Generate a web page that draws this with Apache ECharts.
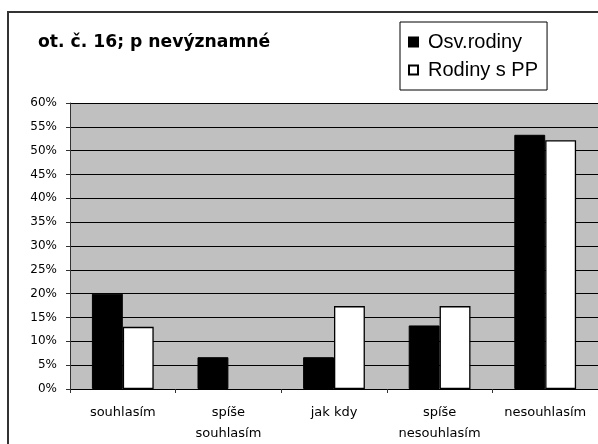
<!DOCTYPE html>
<html>
<head>
<meta charset="utf-8">
<script src="https://cdn.jsdelivr.net/npm/echarts@6/dist/echarts.min.js"></script>
<style>
html,body{margin:0;padding:0;background:#fff;}
#c{width:598px;height:444px;}
</style>
</head>
<body>
<div id="c"></div>
<script>
var titleText = 'ot. č. 16; p nevýznamné';
var categories = ['souhlasím', 'spíše\nsouhlasím', 'jak kdy', 'spíše\nnesouhlasím', 'nesouhlasím'];
var seriesNames = ['Osv.rodiny', 'Rodiny s PP'];
var osvRodiny = [20.0, 6.67, 6.67, 13.33, 53.33];
var rodinySPP = [13.04, 0, 17.39, 17.39, 52.17];
var yTicks = { min: 0, max: 60, interval: 5 };

function withZeroHidden(arr) {
  return arr.map(function (v) {
    return v === 0 ? { value: v, itemStyle: { borderWidth: 0 } } : v;
  });
}

var chart = echarts.init(document.getElementById('c'), null, { renderer: 'canvas' });
chart.setOption({
  animation: false,
  backgroundColor: '#ffffff',
  title: {
    text: titleText,
    left: 38,
    top: 34,
    padding: 0,
    textStyle: { fontFamily: 'DejaVu Sans', fontWeight: 'bold', fontSize: 17.2, lineHeight: 18, color: '#000' }
  },
  legend: {
    orient: 'vertical',
    left: 400,
    top: 22,
    padding: [10, 9, 10, 8],
    itemGap: 8,
    itemWidth: 9,
    itemHeight: 9,
    icon: 'rect',
    borderColor: '#000',
    borderWidth: 1,
    backgroundColor: '#fff',
    textStyle: { fontFamily: 'Liberation Sans', fontSize: 20, lineHeight: 20, color: '#000', padding: [0, 0, 0, 5] },
    data: seriesNames
  },
  graphic: [{
    type: 'rect',
    z: -10,
    silent: true,
    shape: { x: 8, y: 12, width: 700, height: 600 },
    style: { fill: 'none', stroke: '#333', lineWidth: 2 }
  }],
  grid: {
    left: 70, right: -1, top: 103, bottom: 55,
    show: true, backgroundColor: '#c0c0c0', borderWidth: 0
  },
  xAxis: {
    type: 'category',
    data: categories,
    axisLine: { lineStyle: { color: '#000', width: 1 } },
    axisTick: { show: true, length: 4, alignWithLabel: false, lineStyle: { color: '#333' } },
    axisLabel: { margin: 13, fontFamily: 'DejaVu Sans', fontSize: 13, lineHeight: 21, color: '#000', interval: 0 },
    splitLine: { show: false }
  },
  yAxis: {
    type: 'value',
    min: yTicks.min, max: yTicks.max, interval: yTicks.interval,
    axisLine: { show: true, lineStyle: { color: '#333', width: 1 } },
    axisTick: { show: true, length: 4, lineStyle: { color: '#333' } },
    axisLabel: { margin: 13, fontFamily: 'DejaVu Sans', fontSize: 12, color: '#000', formatter: '{value}%' },
    splitLine: { show: true, lineStyle: { color: '#000', width: 1 } }
  },
  series: [{
    name: seriesNames[0],
    type: 'bar',
    data: withZeroHidden(osvRodiny),
    barGap: '0%',
    barCategoryGap: '41.5%',
    itemStyle: { color: '#000', borderColor: '#000', borderWidth: 1 }
  }, {
    name: seriesNames[1],
    type: 'bar',
    data: withZeroHidden(rodinySPP),
    barGap: '0%',
    barCategoryGap: '41.5%',
    itemStyle: { color: '#fff', borderColor: '#000', borderWidth: 1.3 }
  }]
});
</script>
</body>
</html>
